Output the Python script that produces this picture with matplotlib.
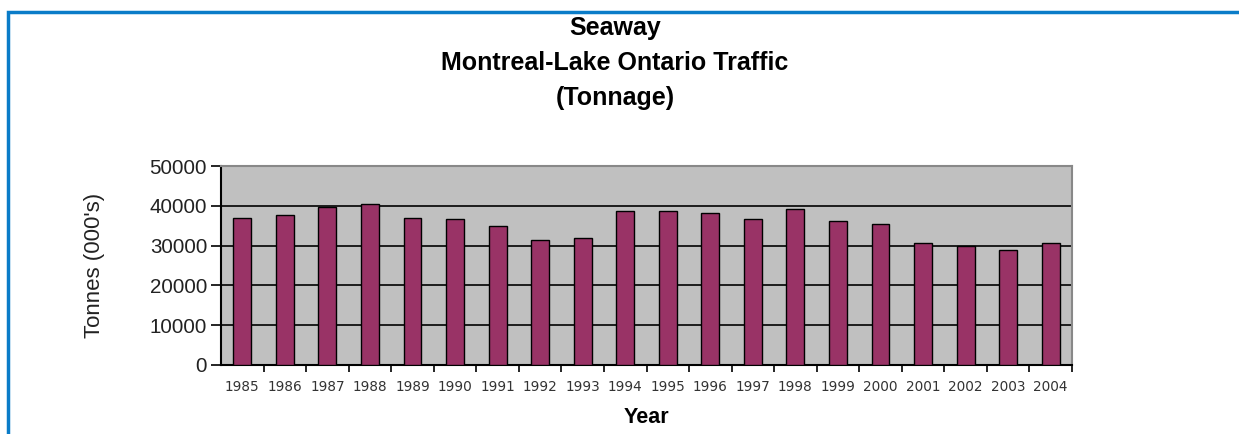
import matplotlib
matplotlib.use('Agg')
import matplotlib.pyplot as plt
from matplotlib.patches import Rectangle
from matplotlib.ticker import FixedLocator, NullFormatter
from matplotlib import font_manager


years = ['1985', '1986', '1987', '1988', '1989', '1990', '1991', '1992', '1993', '1994',
         '1995', '1996', '1997', '1998', '1999', '2000', '2001', '2002', '2003', '2004']
tonnage = [37000, 37600, 39800, 40500, 37000, 36600, 34800, 31400, 31900, 38700,
           38700, 38300, 36800, 39100, 36300, 35400, 30600, 30000, 29000, 30600]
y_ticks = [0, 10000, 20000, 30000, 40000, 50000]

names = {f.name for f in font_manager.fontManager.ttflist}
narrow = 'Liberation Sans Narrow' if 'Liberation Sans Narrow' in names else 'Liberation Sans'

plt.rcParams['font.family'] = ['Liberation Sans', 'DejaVu Sans']

W, H = 1239, 434
fig = plt.figure(figsize=(W / 100, H / 100), dpi=100)
fig.patch.set_facecolor('white')

# blue frame (only top and left visible in the crop)
fig.add_artist(Rectangle((7.5 / W, -0.2), 1.0, 1.2 - 12 / H, transform=fig.transFigure,
                         fill=False, edgecolor='#0a7cc8', linewidth=2.5, clip_on=False))

ax = fig.add_axes([221 / W, 1 - 365 / H, (1072 - 221) / W, (365 - 166) / H])
ax.set_facecolor('#c0c0c0')

x = list(range(len(years)))
ax.bar(x, tonnage, width=0.42, color='#993366', edgecolor='black', linewidth=1.0, zorder=3)

ax.set_xlim(-0.5, len(years) - 0.5)
ax.set_ylim(0, 50000)
ax.set_yticks(y_ticks)
ax.set_yticklabels([str(v) for v in y_ticks], fontsize=14.8, color='#222222')
ax.yaxis.grid(True, color='black', linewidth=1.2, zorder=1)
ax.set_axisbelow(True)

ax.set_xticks(x)
ax.set_xticklabels(years, fontsize=9.8, family='DejaVu Sans', color='#333333')
ax.tick_params(axis='x', length=0, pad=11)
ax.xaxis.set_minor_locator(FixedLocator([i + 0.5 for i in range(len(years))]))
ax.xaxis.set_minor_formatter(NullFormatter())
ax.tick_params(axis='x', which='minor', length=5, width=1.2, color='black')
ax.tick_params(axis='y', length=7, width=1.2, color='black', pad=3)

for side in ['top', 'right']:
    ax.spines[side].set_color('#888888')
    ax.spines[side].set_linewidth(1.5)
for side in ['left', 'bottom']:
    ax.spines[side].set_color('black')
    ax.spines[side].set_linewidth(1.5)

ax.set_ylabel("Tonnes (000's)", fontsize=16, family=narrow, color='#222222', labelpad=32)
ax.set_xlabel('Year', fontsize=15.5, fontweight='bold', labelpad=9)

fig.text(615 / W, 1 - 28 / H, 'Seaway', ha='center', va='center', fontsize=18, fontweight='bold')
fig.text(615 / W, 1 - 63 / H, 'Montreal-Lake Ontario Traffic', ha='center', va='center',
         fontsize=18, fontweight='bold')
fig.text(615 / W, 1 - 98 / H, '(Tonnage)', ha='center', va='center', fontsize=18, fontweight='bold')

fig.savefig('out.png', dpi=100)
